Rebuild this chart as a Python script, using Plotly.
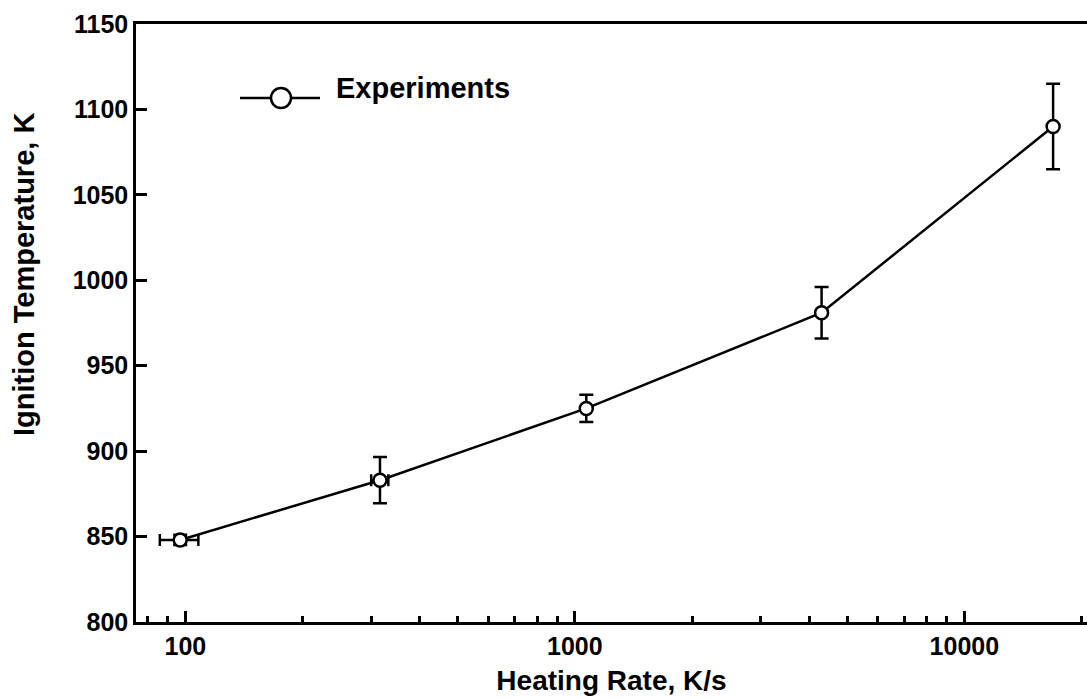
import plotly.graph_objects as go
import math

# Data
heating_rate = [97, 316, 1070, 4300, 16900]          # K/s
ignition_temp = [848, 883, 925, 981, 1090]          # K
temp_err = [3, 13.5, 8, 15, 25]                     # K
rate_err = [11, 16, 0, 0, 0]                        # K/s

major_ticks = [100, 1000, 10000]
major_labels = ["100", "1000", "10000"]
minor_ticks = [80, 90, 200, 300, 400, 500, 600, 700, 800, 900,
               2000, 3000, 4000, 5000, 6000, 7000, 8000, 9000, 20000]
y_ticks = [800, 850, 900, 950, 1000, 1050, 1100, 1150]

W, H = 1087, 699
L, R, T, B = 136, 0, 24, 77
FONT = "Liberation Sans"

fig = go.Figure()
fig.add_trace(go.Scatter(
    x=heating_rate, y=ignition_temp,
    mode="lines+markers",
    line=dict(color="black", width=2.5),
    marker=dict(symbol="circle", size=13, color="white",
                line=dict(color="black", width=2.5)),
    error_y=dict(type="data", array=temp_err, color="black",
                 thickness=2.5, width=7),
    error_x=dict(type="data", array=rate_err, color="black",
                 thickness=2.5, width=6),
    showlegend=False,
    cliponaxis=False,
))

pw = W - L - R
ph = H - T - B
def px(x):
    return (x - L) / pw
def py(y):
    return (H - B - y) / ph

# Legend drawn as decoration
fig.add_shape(type="line", xref="paper", yref="paper",
              x0=px(240), x1=px(320), y0=py(98), y1=py(98),
              line=dict(color="black", width=2.5))
fig.add_shape(type="circle", xref="paper", yref="paper",
              x0=px(271), x1=px(291), y0=py(108), y1=py(88),
              line=dict(color="black", width=2.5), fillcolor="white")
fig.add_annotation(xref="paper", yref="paper", x=px(334), y=py(88),
                   xanchor="left", yanchor="middle", showarrow=False,
                   text="<b>Experiments</b>",
                   font=dict(family=FONT, size=29, color="black"))

# Y axis title
fig.add_annotation(xref="paper", yref="paper", x=px(24), y=py(275),
                   xanchor="center", yanchor="middle", showarrow=False,
                   textangle=-90,
                   text="<b>Ignition Temperature, K</b>",
                   font=dict(family=FONT, size=29, color="black"))

fig.update_xaxes(
    type="log",
    range=[math.log10(74.7), math.log10(20650)],
    tickvals=major_ticks, ticktext=major_labels,
    ticks="inside", ticklen=11, tickwidth=2.5, tickcolor="black",
    minor=dict(tickvals=minor_ticks, ticks="inside", ticklen=6,
               tickwidth=2.5, tickcolor="black", showgrid=False),
    showline=True, linecolor="black", linewidth=2.5, mirror=True,
    showgrid=False, zeroline=False,
    tickfont=dict(family=FONT, size=25, color="black", weight="bold"),
    title=dict(text="<b>Heating Rate, K/s</b>", standoff=12,
               font=dict(family=FONT, size=28, color="black")),
)
fig.update_yaxes(
    range=[800, 1150],
    tickvals=y_ticks,
    ticks="inside", ticklen=11, tickwidth=2.5, tickcolor="black",
    showline=True, linecolor="black", linewidth=2.5,
    showgrid=False, zeroline=False,
    tickfont=dict(family=FONT, size=25, color="black", weight="bold"),
)

fig.update_layout(
    width=W, height=H,
    margin=dict(l=L, r=R, t=T, b=B),
    paper_bgcolor="white", plot_bgcolor="white",
    showlegend=False,
)

fig.write_html("out.html")
